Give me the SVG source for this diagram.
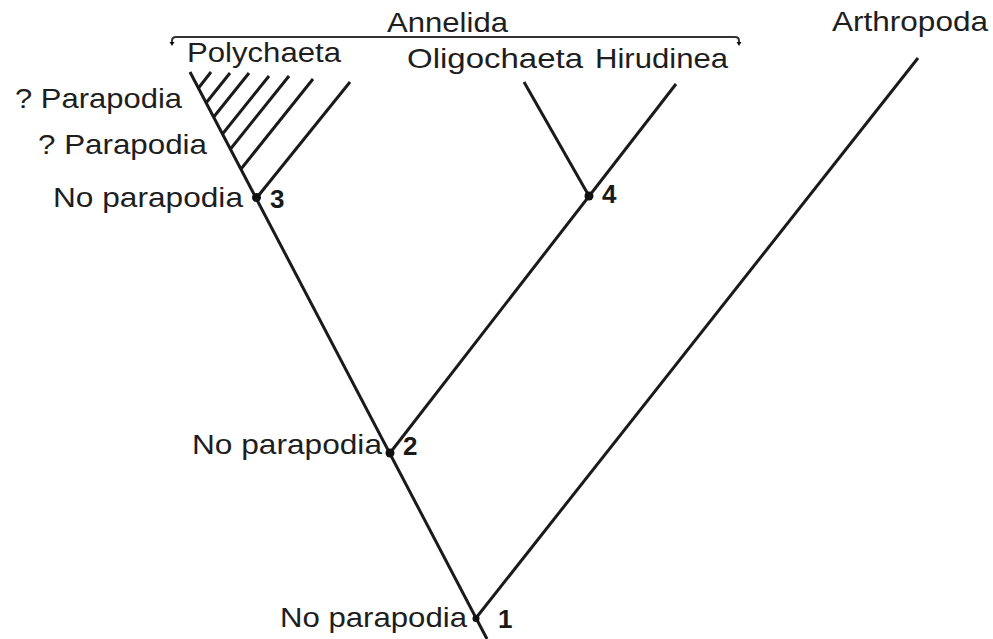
<svg xmlns="http://www.w3.org/2000/svg" width="993" height="639" viewBox="0 0 993 639">
<style>
.t{font-family:"Liberation Sans",Arial,sans-serif;font-size:27.5px;fill:#1e1e1e;}
.n{font-family:"Liberation Sans",Arial,sans-serif;font-size:26px;font-weight:bold;fill:#1a1a1a;}
.e{stroke:#1a1a1a;stroke-width:3;fill:none;stroke-linecap:butt;}
.b{stroke:#333;stroke-width:2;fill:none;}
.d{fill:#111;}
</style>
<rect width="993" height="639" fill="#fff"/>
<g id="connectors">
<line class="e" x1="190" y1="72" x2="487" y2="639"/>
<line class="e" x1="476" y1="618" x2="918" y2="58"/>
<line class="e" x1="390" y1="453" x2="676" y2="84"/>
<line class="e" x1="524" y1="82" x2="589" y2="196"/>
<line class="e" x1="211" y1="72" x2="198.5" y2="88"/>
<line class="e" x1="230" y1="73" x2="206" y2="103"/>
<line class="e" x1="249" y1="73" x2="213.7" y2="117"/>
<line class="e" x1="269" y1="76" x2="222.5" y2="134"/>
<line class="e" x1="289" y1="76" x2="230.5" y2="149"/>
<line class="e" x1="313" y1="79" x2="241" y2="169"/>
<line class="e" x1="350" y1="82" x2="256.5" y2="198"/>
</g>
<g id="annelida">
<path class="b" d="M176 37 L735 37 Q739 37 739 41 L739 43"/>
<path class="b" d="M176 37 Q172 37 172 41 L172 43"/>
<path class="d" d="M169.5 42 L174.5 42 L172 46 Z"/>
<path class="d" d="M736.5 42 L741.5 42 L739 46 Z"/>
<text class="t" x="387" y="32" textLength="121" lengthAdjust="spacingAndGlyphs">Annelida</text>
</g>
<g id="polychaeta">
<text class="t" x="187" y="62" textLength="154" lengthAdjust="spacingAndGlyphs">Polychaeta</text>
</g>
<g id="oligochaeta">
<text class="t" x="407" y="68" textLength="176" lengthAdjust="spacingAndGlyphs">Oligochaeta</text>
</g>
<g id="hirudinea">
<text class="t" x="595" y="68" textLength="133" lengthAdjust="spacingAndGlyphs">Hirudinea</text>
</g>
<g id="arthropoda">
<text class="t" x="832" y="31" textLength="156" lengthAdjust="spacingAndGlyphs">Arthropoda</text>
</g>
<g id="parapodia-q1">
<text class="t" x="15" y="108" textLength="167" lengthAdjust="spacingAndGlyphs">? Parapodia</text>
</g>
<g id="parapodia-q2">
<text class="t" x="38" y="154" textLength="169" lengthAdjust="spacingAndGlyphs">? Parapodia</text>
</g>
<g id="node3">
<circle class="d" cx="256.5" cy="197.5" r="4.5"/>
<text class="t" x="53" y="207" textLength="190" lengthAdjust="spacingAndGlyphs">No parapodia</text>
<text class="n" x="270" y="208">3</text>
</g>
<g id="node4">
<circle class="d" cx="589" cy="196" r="4.5"/>
<text class="n" x="602" y="203">4</text>
</g>
<g id="node2">
<circle class="d" cx="390" cy="453" r="4.5"/>
<text class="t" x="192" y="454" textLength="190" lengthAdjust="spacingAndGlyphs">No parapodia</text>
<text class="n" x="403" y="455">2</text>
</g>
<g id="node1">
<circle class="d" cx="476" cy="618.5" r="3.5"/>
<text class="t" x="280" y="627" textLength="187" lengthAdjust="spacingAndGlyphs">No parapodia</text>
<text class="n" x="498" y="628">1</text>
</g>
</svg>
